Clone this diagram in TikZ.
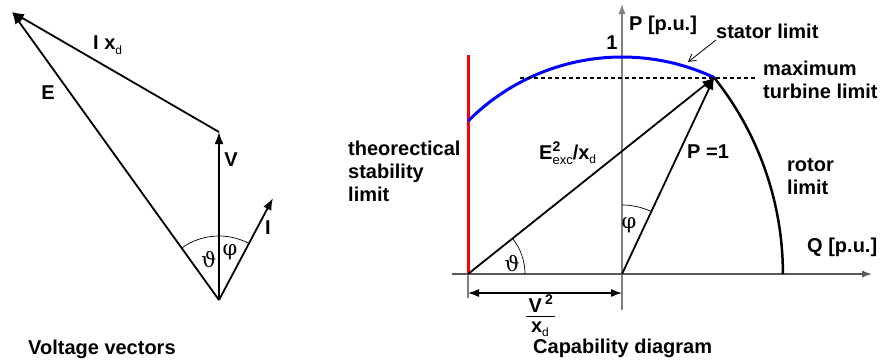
\documentclass[tikz,border=0pt]{standalone}
\usepackage{fontspec}
\setmainfont{Liberation Sans}
\newfontfamily\grk{DejaVu Serif}
\usetikzlibrary{arrows.meta,calc}
\newcommand\subd[1]{\raisebox{-4.5pt}{\fontsize{12}{12}\selectfont\mdseries #1}}
\begin{document}
\begin{tikzpicture}[x=1pt,y=-1pt,
  lbl/.style={font=\fontsize{20}{23}\selectfont\bfseries, inner sep=0pt},
  grklbl/.style={font=\fontsize{21}{22}\selectfont\grk, inner sep=0pt},
  vec/.style={line width=1.8pt, -{Latex[length=12pt,width=9pt]}},
  axisline/.style={line width=1.2pt, gray!70!black},
  thin arc/.style={line width=0.7pt},
]
\useasboundingbox (0,0) rectangle (880,362);

% ---------- Voltage vectors ----------
\coordinate (O) at (219,300);
\coordinate (Vt) at (219,132);
\coordinate (Et) at (12,12);
\coordinate (It) at (273,198);
\draw[vec] (O) -- (Vt);
\draw[vec] (O) -- (Et);
\draw[vec] (Vt) -- (Et);
\draw[vec] (O) -- (It);
\draw[thin arc] (O) ++(-125.7:64) arc[start angle=-125.7, end angle=-62.1, radius=64];

\node[lbl, anchor=west] (lIx) at (93,45) {I x\subd{d}};
\node[lbl] (lE) at (48,93) {E};
\node[lbl] (lV) at (231,160) {V};
\node[lbl] (lI) at (268,228) {I};
\node[grklbl] (lth1) at (209,259) {ϑ};
\node[grklbl] (lph1) at (230,252) {φ};
\node[lbl, anchor=west] (cap1) at (28,349) {Voltage vectors};

% ---------- Capability diagram ----------
\coordinate (L) at (468,274);
\coordinate (C) at (622,274);
\coordinate (A) at (714.2,77.6);

% axes
\coordinate (Qs) at (452,274);
\coordinate (Qe) at (872,274);
\coordinate (Ps) at (622,310);
\coordinate (Pe) at (622,4);
\draw[axisline, -{Latex[length=10pt,width=7pt]}] (Qs) -- (Qe);
\draw[axisline, gray, -{Latex[length=10pt,width=7pt]}] (Ps) -- (Pe);
\coordinate (Tk) at (468,298);
\draw[axisline, gray] (L) -- (Tk);

% red stability limit
\coordinate (Rtop) at (468,55);
\draw[red, line width=3pt] (L) -- (Rtop);

% stator limit (blue arc)
\draw[blue, line width=3pt] (C) ++(-135.2:217) arc[start angle=-135.2, end angle=-64.86, radius=217];

% rotor limit
\draw[line width=2.5pt] (L) ++(-38.58:314.9) arc[start angle=-38.58, end angle=0, radius=314.9];

% turbine limit dashed
\coordinate (Ds) at (520,78);
\coordinate (De) at (757,78);
\draw[line width=1.3pt, dash pattern=on 4pt off 3pt] (Ds) -- (De);

% vectors
\draw[vec] (L) -- (A);
\draw[vec] (C) -- (A);

% angle arcs
\draw[thin arc] (L) ++(-38.55:57) arc[start angle=-38.55, end angle=0, radius=57];
\draw[thin arc] (C) ++(-90:69) arc[start angle=-90, end angle=-64.86, radius=69];

% dimension
\coordinate (D1) at (468,293);
\coordinate (D2) at (622,293);
\draw[line width=1.2pt, {Latex[length=11pt,width=8pt]}-{Latex[length=11pt,width=8pt]}] (D1) -- (D2);

% stator annotation arrow
\coordinate (Sa) at (716,40);
\coordinate (Sb) at (688,62);
\draw[line width=0.8pt, -{Straight Barb[length=7pt,width=8pt]}] (Sa) -- (Sb);

% labels
\node[lbl, anchor=west] (lP) at (629,25) {P [p.u.]};
\node[lbl] (l1) at (612,43) {1};
\node[lbl, anchor=west] (lst) at (716,31) {stator limit};
\node[lbl, anchor=north west, align=left] (ltu) at (763,61) {maximum\\turbine limit};
\node[lbl, anchor=north west, align=left] (lts) at (348,141) {theorectical\\stability\\limit};
\node[lbl, anchor=west] (lEx) at (539,153) {E\rlap{\raisebox{8pt}{\fontsize{14}{14}\selectfont 2}}\raisebox{-5pt}{\fontsize{13}{13}\selectfont\mdseries exc}/x\subd{d}};
\node[lbl, anchor=west] (lP1) at (687,152) {P =1};
\node[lbl, anchor=north west, align=left] (lro) at (787,158) {rotor\\limit};
\node[lbl, anchor=west] (lQ) at (807,247) {Q [p.u.]};
\node[grklbl] (lth2) at (512,263) {ϑ};
\node[grklbl] (lph2) at (629,225) {φ};
% fraction V^2 / x_d
\node[lbl, anchor=base] (fnum) at (541,312) {V\,\textsuperscript{2}};
\coordinate (fb1) at (526,316);
\coordinate (fb2) at (555,316);
\draw[line width=0.9pt] (fb1) -- (fb2);
\node[lbl, anchor=base] (fden) at (540,332) {x\subd{d}};
\node[lbl, anchor=west] (cap2) at (533,348) {Capability diagram};
\end{tikzpicture}
\end{document}
